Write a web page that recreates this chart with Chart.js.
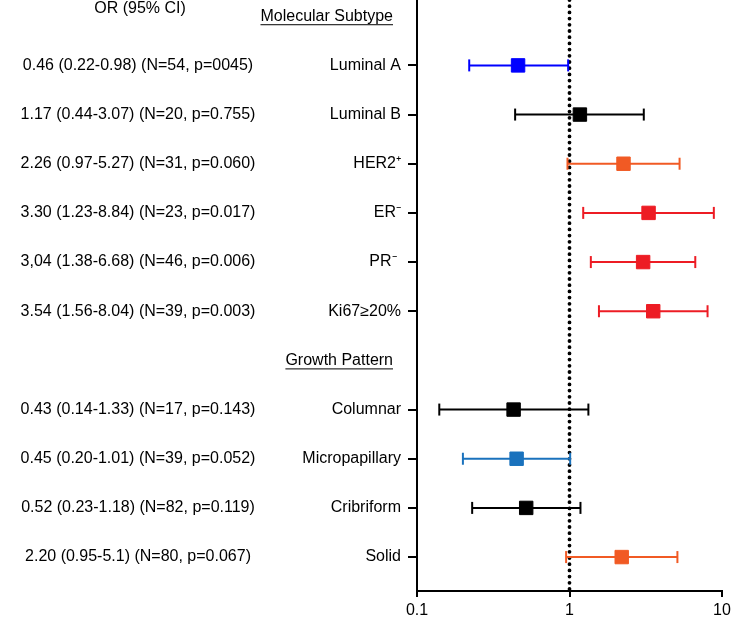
<!DOCTYPE html>
<html>
<head>
<meta charset="utf-8">
<script src="https://cdn.jsdelivr.net/npm/chart.js@4.4.1/dist/chart.umd.min.js"></script>
<style>
    html, body { margin: 0; padding: 0; background: #fff; }
    canvas { display: block; }
</style>
</head>
<body>
<canvas id="forest" width="731" height="623"></canvas>
<script>
// ── Data ──
const rowLabels = ['Luminal A', 'Luminal B', 'HER2⁺', 'ER⁻', 'PR⁻ ', 'Ki67≥20%',
                   'Columnar', 'Micropapillary', 'Cribriform', 'Solid'];
const rowPos    = [1, 2, 3, 4, 5, 6, 8, 9, 10, 11];
const orValues  = [0.46, 1.17, 2.26, 3.30, 3.04, 3.54, 0.43, 0.45, 0.52, 2.20];
const ciLow     = [0.22, 0.44, 0.97, 1.23, 1.38, 1.56, 0.14, 0.20, 0.23, 0.95];
const ciHigh    = [0.98, 3.07, 5.27, 8.84, 6.68, 8.04, 1.33, 1.01, 1.18, 5.1];
const orText    = [
    '0.46 (0.22-0.98) (N=54, p=0045)',
    '1.17 (0.44-3.07) (N=20, p=0.755)',
    '2.26 (0.97-5.27) (N=31, p=0.060)',
    '3.30 (1.23-8.84) (N=23, p=0.017)',
    '3,04 (1.38-6.68) (N=46, p=0.006)',
    '3.54 (1.56-8.04) (N=39, p=0.003)',
    '0.43 (0.14-1.33) (N=17, p=0.143)',
    '0.45 (0.20-1.01) (N=39, p=0.052)',
    '0.52 (0.23-1.18) (N=82, p=0.119)',
    '2.20 (0.95-5.1) (N=80, p=0.067)',
];
const rowColors = ['#0000ff', '#000000', '#f15a24', '#ed1c24', '#ed1c24', '#ed1c24',
                   '#000000', '#1a72bd', '#000000', '#f15a24'];
const groupHeaders = ['Molecular Subtype', 'Growth Pattern'];
const headerPos    = [0, 7];
const xTicks       = [0.1, 1, 10];
const yRange       = [-0.33, 11.69];

const FONT = { family: '"Liberation Sans", Arial, sans-serif', size: 16 };

// ── Datasets ──
const markerSet = {
    type: 'scatter',
    data: orValues.map((v, i) => ({ x: v, y: rowPos[i] })),
    pointStyle: 'rect',
    pointRadius: 9.5,
    backgroundColor: rowColors,
    borderColor: rowColors,
    borderWidth: 1,
};

const ciSets = rowPos.map((p, i) => ({
    type: 'line',
    data: [{ x: ciLow[i], y: p }, { x: ciHigh[i], y: p }],
    borderColor: rowColors[i],
    borderWidth: 2,
    pointStyle: 'line',
    rotation: 90,
    pointRadius: 6,
    pointBorderWidth: 2,
    pointBorderColor: rowColors[i],
}));

const refLine = {
    type: 'line',
    data: [{ x: 1, y: yRange[0] }, { x: 1, y: yRange[1] }],
    borderColor: '#000',
    borderWidth: 3.8,
    borderDash: [0, 6.2],
    borderCapStyle: 'round',
    pointRadius: 0,
};

// ── Text column & group headers ──
const textPlugin = {
    id: 'textColumn',
    afterDraw(chart) {
        const { ctx } = chart;
        const y = chart.scales.y;
        ctx.save();
        ctx.fillStyle = '#000';
        ctx.font = `${FONT.size}px ${FONT.family}`;
        ctx.textBaseline = 'middle';

        ctx.textAlign = 'center';
        ctx.fillText('OR (95% CI)', 140, y.getPixelForValue(-0.15));
        orText.forEach((t, i) => ctx.fillText(t, 138, y.getPixelForValue(rowPos[i])));

        ctx.textAlign = 'right';
        ctx.lineWidth = 1;
        ctx.strokeStyle = '#000';
        groupHeaders.forEach((h, i) => {
            const py = y.getPixelForValue(headerPos[i]);
            ctx.fillText(h, 393, py);
            const w = ctx.measureText(h).width;
            ctx.beginPath();
            ctx.moveTo(393 - w, py + 8.5);
            ctx.lineTo(393, py + 8.5);
            ctx.stroke();
        });
        ctx.restore();
    },
};

new Chart(document.getElementById('forest'), {
    data: { datasets: [markerSet, ...ciSets, refLine] },
    options: {
        responsive: false,
        animation: false,
        layout: { autoPadding: false, padding: { left: 0, right: 9, top: 0, bottom: 0 } },
        plugins: { legend: { display: false }, tooltip: { enabled: false } },
        scales: {
            x: {
                type: 'logarithmic',
                position: 'bottom',
                min: 0.1,
                max: 10,
                afterBuildTicks: s => { s.ticks = xTicks.map(v => ({ value: v, major: true })); },
                afterFit: s => { s.height = 32; s.paddingLeft = 0; s.paddingRight = 0; },
                ticks: {
                    color: '#000', font: FONT, padding: 4, autoSkip: false, maxRotation: 0,
                    callback: v => String(v),
                },
                grid: { drawOnChartArea: false, drawTicks: true, tickLength: 6, color: '#000', lineWidth: 2 },
                border: { display: true, color: '#000', width: 2 },
            },
            y: {
                type: 'linear',
                reverse: true,
                min: yRange[0],
                max: yRange[1],
                afterBuildTicks: s => { s.ticks = rowPos.map(v => ({ value: v })); },
                afterFit: s => { s.width = 417; s.paddingTop = 0; s.paddingBottom = 0; },
                ticks: {
                    color: '#000', font: FONT, padding: 7, autoSkip: false,
                    callback: (v, i) => rowLabels[i],
                },
                grid: { drawOnChartArea: false, drawTicks: true, tickLength: 9, color: '#000', lineWidth: 2 },
                border: { display: true, color: '#000', width: 2 },
            },
        },
    },
    plugins: [textPlugin],
});
</script>
</body>
</html>
